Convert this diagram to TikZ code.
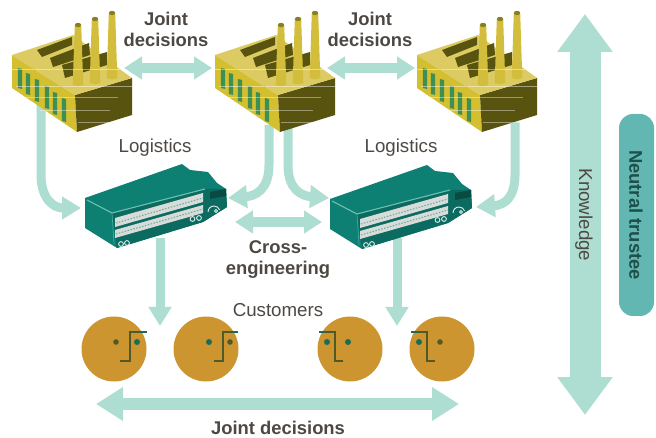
\documentclass[tikz,border=0pt]{standalone}
\usepackage{fontspec}
\setmainfont{Liberation Sans}
\usetikzlibrary{arrows.meta,calc}
\definecolor{arrowc}{HTML}{AEDDD1}
\definecolor{txt}{HTML}{4D4843}
\definecolor{pill}{HTML}{62B7B2}
\definecolor{pilltxt}{HTML}{1F4F4A}
\definecolor{facec}{HTML}{CC9530}
\definecolor{eyeg}{HTML}{1E6A58}
\definecolor{eyeo}{HTML}{4F5A28}
\definecolor{roofc}{HTML}{DCCB62}
\definecolor{wallc}{HTML}{D4BF30}
\definecolor{darkc}{HTML}{58530F}
\definecolor{winc}{HTML}{3F8F55}
\definecolor{chimc}{HTML}{D2BE3C}
\definecolor{truckc}{HTML}{0E7F73}
\definecolor{truckd}{HTML}{0B6B60}
\definecolor{truckl}{HTML}{6CC0B2}
\definecolor{stripec}{HTML}{D8DCD8}
\tikzset{
  x=1pt,y=-1pt,
  lab/.style={font=\fontsize{18.7}{21}\selectfont,text=txt,align=center,inner sep=0pt},
  labb/.style={lab,font=\fontsize{18.4}{21}\selectfont\bfseries},
  link/.style={draw=arrowc,line width=9pt,-{Triangle[length=19pt,width=22pt]}},
  linkb/.style={draw=arrowc,line width=10pt,{Triangle[length=18pt,width=22pt]}-{Triangle[length=18pt,width=22pt]}},
  bigh/.style={draw=arrowc,line width=12pt,{Triangle[length=27pt,width=32pt]}-{Triangle[length=27pt,width=32pt]}},
  bigv/.style={draw=arrowc,line width=31pt,{Triangle[length=38pt,width=53pt]}-{Triangle[length=38pt,width=53pt]}},
  face/.style={circle,fill=facec,minimum size=65pt,inner sep=0pt},
  feature/.style={draw=eyeo,line width=1.4pt},
  tip/.style={draw=eyeg,line width=1.4pt},
  factory/.pic={
    \fill[wallc] (12,55)--(75,95)--(77,132)--(12,88)--cycle;
    \fill[darkc] (75,95)--(132,78)--(132,115)--(77,132)--cycle;
    \fill[roofc] (12,55)--(73,35)--(132,78)--(75,95)--cycle;
    \fill[darkc] (37,50)--(72,37)--(72,45)--(42,57)--cycle;
    \fill[darkc] (50,58)--(89,43)--(90,55)--(53,67)--cycle;
    \fill[darkc] (62,65)--(107,52)--(107,65)--(65,78)--cycle;
    \foreach \a/\t/\h in {20/68/20,28/73/21,37/79/22,47/86/22,55/92/22,64/98/23}{
      \fill[winc] (\a-2.2,\t)--(\a+2.2,\t+1)--(\a+2.2,\t+\h+1)--(\a-2.2,\t+\h)--cycle;
    }
    \foreach \x/\t/\b in {78/25/85,95/19/83,112/13/78}{
      \fill[chimc] (\x-5.3,\b)--(\x-3.2,\t)--(\x+3.2,\t)--(\x+5.3,\b)--(\x,\b+1.5)--cycle;
      \fill[darkc!60!chimc] (\x,\t) ellipse[x radius=3.2pt,y radius=2.2pt];
    }
    \draw[white,opacity=.45,line width=.5pt] (12,69)--(120,69);
    \draw[white,opacity=.45,line width=.5pt] (16,86)--(132,86);
    \draw[white,opacity=.4,line width=.5pt] (20,97)--(118,97);
    \draw[white,opacity=.4,line width=.5pt] (40,110)--(110,110);
    \draw[white,opacity=.4,line width=.5pt] (78,122)--(118,122);
    \draw[roofc,opacity=.9,line width=.6pt] (12,55)--(75,95);
  },
  truck/.pic={
    \fill[truckc] (85,198)--(182,164)--(190,170)--(208,172)--(217,183)--(226,189)--(227,207)--(203,222)--(117,248)--(85,228)--cycle;
    \fill[truckd] (112,213)--(205,189)--(226,189)--(227,207)--(203,222)--(117,248)--cycle;
    \draw[truckl,line width=1.1pt] (87,200)--(112,213)--(205,189);
    \draw[truckl!60!truckc,line width=.7pt] (112,213)--(114,244);
    \fill[stripec] (115,218)--(203,193)--(203,202)--(115,227)--cycle;
    \fill[stripec] (115,230)--(203,205)--(203,213)--(115,238)--cycle;
    \draw[truckc!55!stripec,line width=1pt,dash pattern=on 1.5pt off 1.5pt] (116,223)--(203,198);
    \draw[truckc!55!stripec,line width=1pt,dash pattern=on 1.5pt off 1.5pt] (116,234)--(203,209);
    \fill[truckd!70!black] (210,192)--(226,189)--(226,196)--(210,199)--cycle;
    \draw[white!85!truckc,line width=.9pt] (208,212) arc[start angle=180,end angle=20,radius=6pt];
    \draw[white!85!truckc,line width=.9pt] (216,211) circle[radius=1.5pt];
    \draw[white!85!truckc,line width=.9pt] (192.5,219) circle[radius=2.4pt] (199,218) circle[radius=2.4pt];
    \draw[white!85!truckc,line width=.9pt] (121,244) circle[radius=2.4pt] (127,243) circle[radius=2.4pt];
  }
}
\begin{document}
\begin{tikzpicture}
\useasboundingbox (0,0) rectangle (656,438);
\coordinate (f1b) at (41,100);
\coordinate (t1l) at (81,208);
\coordinate (f2a) at (269,125);
\coordinate (t1r) at (228,198);
\coordinate (f2b) at (288,125);
\coordinate (t2l) at (329,198);
\coordinate (f3b) at (515,122);
\coordinate (t2r) at (476,207);
\coordinate (t1b) at (160,238);
\coordinate (c1) at (160,326);
\coordinate (t2b) at (397,238);
\coordinate (c2) at (397,326);
\coordinate (f1r) at (124,68);
\coordinate (f2l) at (212,68);
\coordinate (f2r) at (327,68);
\coordinate (f3l) at (415,68);
\coordinate (t1c) at (235,222);
\coordinate (t2c) at (322,222);
\coordinate (cl) at (96,404);
\coordinate (cr) at (459,404);
\coordinate (kt) at (585,14);
\coordinate (kb) at (585,415);
\draw[link] (f1b)--(41,175) .. controls (41,197) and (52,208) .. (t1l);
\draw[link] (f2a)--(269,165) .. controls (269,190) and (255,196) .. (t1r);
\draw[link] (f2b)--(288,165) .. controls (288,190) and (302,196) .. (t2l);
\draw[link] (f3b)--(515,175) .. controls (515,197) and (505,205) .. (t2r);
\draw[link] (t1b)--(c1);
\draw[link] (t2b)--(c2);
\pic at (0,0) {factory};
\pic at (203,0) {factory};
\pic at (405,0) {factory};
\pic at (0,0) {truck};
\pic at (245,1) {truck};
\draw[linkb] (f1r)--(f2l);
\draw[linkb] (f2r)--(f3l);
\draw[linkb] (t1c)--(t2c);
\draw[bigh] (cl)--(cr);
\draw[bigv] (kt)--(kb);
\node[face] (fa) at (114,349) {};
\node[face] (fb) at (206,349) {};
\node[face] (fc) at (350,349) {};
\node[face] (fd) at (442,349) {};
\fill[eyeo] (116,342) circle[radius=2.8pt];
\fill[eyeg] (137,342) circle[radius=3pt];
\draw[feature] (120,361)--(130,361)--(130,332)--(140,332);
\draw[tip] (140,332)--(147,332);
\fill[eyeg] (209,342) circle[radius=3pt];
\fill[eyeo] (230,342) circle[radius=2.8pt];
\draw[feature] (214,361)--(223,361)--(223,332)--(232,332);
\draw[tip] (232,332)--(238,332);
\fill[eyeg] (327,342) circle[radius=3pt];
\fill[eyeg] (348,342) circle[radius=3pt];
\draw[feature] (343,361)--(335,361)--(335,332)--(326,332);
\draw[tip] (326,332)--(319,332);
\fill[eyeg] (419,342) circle[radius=3pt];
\fill[eyeo] (440,342) circle[radius=2.8pt];
\draw[feature] (435,361)--(427,361)--(427,332)--(418,332);
\draw[tip] (418,332)--(411,332);
\node[labb] (jd1) at (166,29) {Joint\\decisions};
\node[labb] (jd2) at (370,29) {Joint\\decisions};
\node[labb] (jd3) at (278,428) {Joint decisions};
\node[labb] (ce) at (278,260) {Cross-\\engineering};
\node[lab] (lg1) at (155,148) {Logistics};
\node[lab] (lg2) at (401,148) {Logistics};
\node[lab] (cu) at (278,310) {Customers};
\node[lab,rotate=-90] (kn) at (584,215) {Knowledge};
\node[fill=pill,rounded corners=14pt,minimum width=35pt,minimum height=202pt,inner sep=0pt] (tr) at (636.5,215) {};
\node[labb,text=pilltxt,rotate=-90] (trt) at (636,215) {Neutral trustee};
\end{tikzpicture}
\end{document}
